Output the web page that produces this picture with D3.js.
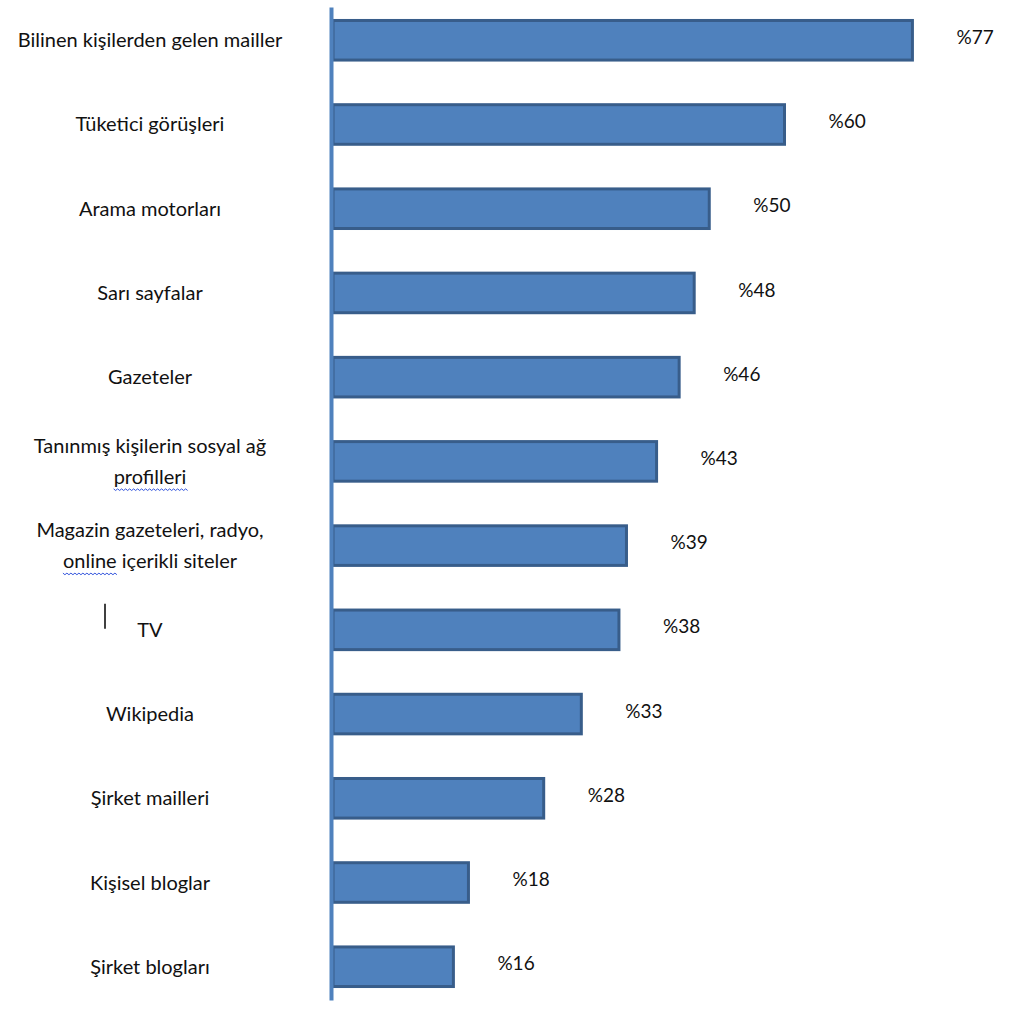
<!DOCTYPE html>
<html><head><meta charset="utf-8">
<script src="https://cdn.jsdelivr.net/npm/d3@7"></script>
<style>body{margin:0;background:#fff}svg{display:block}</style>
</head><body>
<script>
const categories = [
  "Bilinen kişilerden gelen mailler",
  "Tüketici görüşleri",
  "Arama motorları",
  "Sarı sayfalar",
  "Gazeteler",
  "Tanınmış kişilerin sosyal ağ\nprofilleri",
  "Magazin gazeteleri, radyo,\nonline içerikli siteler",
  "TV",
  "Wikipedia",
  "Şirket mailleri",
  "Kişisel bloglar",
  "Şirket blogları"
];
const values = [77, 60, 50, 48, 46, 43, 39, 38, 33, 28, 18, 16];
const valueLabels = ["%77","%60","%50","%48","%46","%43","%39","%38","%33","%28","%18","%16"];

const W = 1010, H = 1010;
const svg = d3.select("body").append("svg").attr("width", W).attr("height", H);
const font = "Lato, 'Open Sans', sans-serif";

const x = d3.scaleLinear().domain([0, 80]).range([333, 935]);
const y = d3.scaleBand().domain(categories).range([7, 1000]).paddingInner(0.53).paddingOuter(0.16);

// bars
svg.append("g").selectAll("rect").data(categories).join("rect")
  .attr("x", x(0))
  .attr("y", d => y(d))
  .attr("width", (d, i) => x(values[i]) - x(0))
  .attr("height", y.bandwidth())
  .attr("fill", "#4f81bd")
  .attr("stroke", "#385d8a")
  .attr("stroke-width", 3);

// axis line
const ax = svg.append("g").attr("transform", `translate(${x(0) - 2},0)`)
  .call(d3.axisLeft(y).tickSize(0).tickSizeOuter(0).tickFormat(""));
ax.select(".domain").attr("stroke", "#4f81bd").attr("stroke-width", 4);

// category labels
const lineH = 31;
const lab = svg.append("g").selectAll("text").data(categories).join("text")
  .attr("text-anchor", "middle")
  .attr("font-family", font)
  .attr("font-size", 20)
  .attr("fill", "#111");
lab.each(function(d) {
  const lines = d.split("\n");
  const cy = y(d) + y.bandwidth() / 2;
  const t = d3.select(this);
  lines.forEach((ln, k) => {
    t.append("tspan")
      .attr("x", 150)
      .attr("y", cy + (k - (lines.length - 1) / 2) * lineH)
      .attr("dy", "0.35em")
      .text(ln);
  });
});

// spell-check wavy underlines (as in the original)
function wavy(x0, x1, yy) {
  let p = `M${x0},${yy}`;
  for (let xx = x0, k = 0; xx < x1; xx += 2, k++) p += `L${xx + 2},${yy + (k % 2 ? 0 : 1.6)}`;
  return p;
}
lab.each(function(d) {
  const lines = d.split("\n");
  if (lines.length < 2) return;
  const cy = y(d) + y.bandwidth() / 2;
  const target = d3.select(this).selectAll("tspan").nodes()[1];
  const n = d.startsWith("Tanınmış") ? target.getNumberOfChars() : 6;
  const s = target.getStartPositionOfChar(0).x;
  const e = target.getEndPositionOfChar(n - 1).x;
  svg.append("path").attr("d", wavy(s, e, cy + 0.5 * lineH + 12))
    .attr("fill", "none").attr("stroke", "#3355dd").attr("stroke-width", 1);
});

// text cursor near TV
const tvCy = y("TV") + y.bandwidth() / 2;
svg.append("line").attr("x1", 105).attr("x2", 105)
  .attr("y1", tvCy - 26).attr("y2", tvCy - 1)
  .attr("stroke", "#000").attr("stroke-width", 1.5);

// value labels
svg.append("g").selectAll("text").data(categories).join("text")
  .attr("x", (d, i) => x(values[i]) + 44)
  .attr("y", d => y(d) + y.bandwidth() / 2 - 3)
  .attr("dy", "0.35em")
  .attr("font-family", font)
  .attr("font-size", 19)
  .attr("fill", "#111")
  .text((d, i) => valueLabels[i]);
</script>
</body></html>
